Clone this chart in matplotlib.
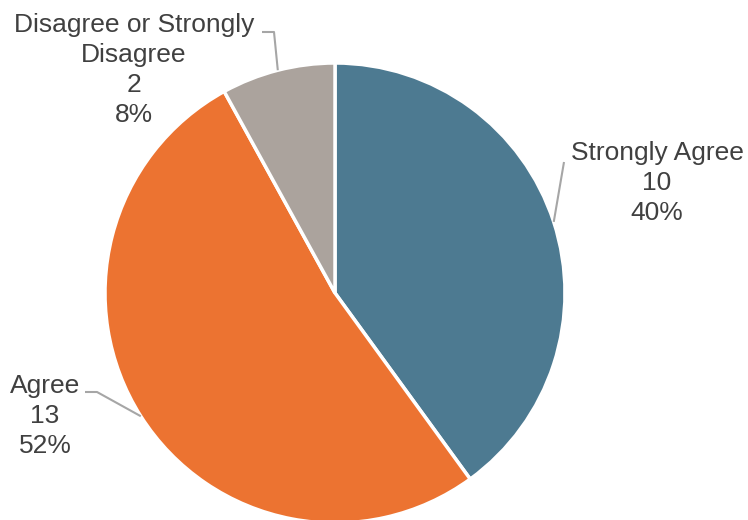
import numpy as np
import matplotlib
matplotlib.use("Agg")
from matplotlib import pyplot as plt

# survey responses
categories = ["Strongly Agree", "Agree", "Disagree or Strongly\nDisagree"]
counts = [10, 13, 2]
colors = ["#4D7A91", "#EC7331", "#ABA39D"]

plt.rcParams['font.family'] = ['Liberation Sans', 'DejaVu Sans']

W, H = 748, 520
fig = plt.figure(figsize=(W / 100, H / 100), dpi=100)
ax = fig.add_axes([0, 0, 1, 1])

cx, cy, r = 335, H - 293, 230
wedges, _ = ax.pie(counts, colors=colors, startangle=90, counterclock=False,
                   center=(cx, cy), radius=r, frame=True,
                   wedgeprops=dict(edgecolor='white', linewidth=2.5))
ax.set_xlim(0, W)
ax.set_ylim(0, H)
ax.set_aspect('equal')
ax.axis('off')

total = sum(counts)
# label block centre and leader line path (elbow points) in pixels from top-left
label_pos = [(657, 183), (45, 416), (134, 70)]
leader_pts = [[(564, 162)], [(97, 392), (85, 392)], [(274, 32), (262, 32)]]

for w, cat, n, (lx, ly), pts in zip(wedges, categories, counts, label_pos, leader_pts):
    mid = np.deg2rad((w.theta1 + w.theta2) / 2)
    x0 = cx + r * np.cos(mid)
    y0 = cy + r * np.sin(mid)
    xs = [x0] + [p[0] for p in pts]
    ys = [y0] + [H - p[1] for p in pts]
    ax.plot(xs, ys, color='#A6A6A6', lw=1.5, solid_capstyle='butt')
    ax.text(lx, H - ly, f"{cat}\n{n}\n{n / total:.0%}", ha='center', va='center',
            multialignment='center', fontsize=19, color='#404040', linespacing=1.32)

fig.savefig("out.png", dpi=100)
